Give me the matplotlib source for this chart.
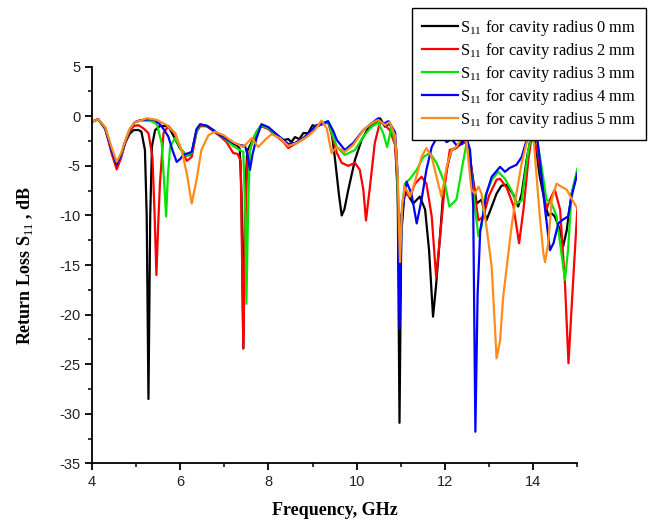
import matplotlib
matplotlib.use("Agg")
import matplotlib.pyplot as plt

plt.rcParams['mathtext.fontset'] = 'custom'
plt.rcParams['mathtext.rm'] = 'Liberation Serif'
plt.rcParams['mathtext.bf'] = 'Liberation Serif:bold'
plt.rcParams['axes.unicode_minus'] = False

# S11 curves: frequency (GHz) and return loss (dB)
f0 = [4.0, 4.14, 4.3, 4.45, 4.56, 4.66, 4.75, 4.85, 4.94, 5.05, 5.12, 5.2, 5.24, 5.28, 5.32, 5.36,
      5.43, 5.54, 5.73, 5.84, 5.99, 6.15, 6.26, 6.37, 6.45, 6.6, 6.75, 6.9, 7.05, 7.2, 7.28, 7.35,
      7.39, 7.43, 7.47, 7.52, 7.62, 7.73, 7.84, 8.0, 8.18, 8.34, 8.45, 8.52, 8.6, 8.7, 8.79, 8.9,
      9.0, 9.09, 9.24, 9.35, 9.43, 9.51, 9.6, 9.66, 9.72, 9.81, 9.96, 10.11, 10.26, 10.41, 10.53,
      10.64, 10.75, 10.87, 10.93, 10.97, 11.01, 11.09, 11.2, 11.28, 11.43, 11.55, 11.64, 11.73,
      11.8, 11.89, 11.96, 12.04, 12.15, 12.26, 12.38, 12.49, 12.57, 12.64, 12.72, 12.83, 12.94,
      13.06, 13.17, 13.28, 13.4, 13.55, 13.66, 13.74, 13.85, 13.96, 14.04, 14.15, 14.27, 14.34,
      14.42, 14.49, 14.61, 14.68, 14.76, 14.87, 15.0]
s0 = [-0.55, -0.3, -1.2, -3.5, -5.0, -4.0, -2.7, -1.8, -1.4, -1.38, -1.55, -3.4, -10.0, -28.5,
      -10.0, -3.0, -1.4, -0.98, -1.0, -1.9, -3.2, -4.0, -3.8, -1.4, -0.9, -1.0, -1.4, -1.9, -2.3,
      -2.8, -2.9, -3.3, -8.0, -23.4, -8.0, -3.5, -2.6, -1.6, -0.9, -1.2, -1.9, -2.4, -2.3, -2.6,
      -2.1, -2.3, -1.7, -1.7, -0.9, -1.05, -0.7, -0.55, -1.5, -4.4, -8.0, -10.0, -9.4, -7.4, -4.4,
      -2.4, -1.2, -0.8, -0.2, -1.05, -0.7, -2.4, -8.0, -30.9, -12.0, -7.2, -8.2, -8.8, -8.1, -9.4,
      -13.5, -20.2, -17.0, -12.0, -7.8, -5.3, -3.4, -3.2, -2.6, -2.4, -4.4, -6.4, -8.8, -8.4,
      -10.5, -9.1, -7.8, -7.0, -6.9, -7.9, -9.1, -7.8, -4.4, -1.8, -2.4, -6.1, -8.8, -10.0, -9.8,
      -10.1, -11.5, -13.1, -11.5, -7.8, -5.7]

f2 = [4.0, 4.14, 4.3, 4.45, 4.56, 4.66, 4.75, 4.85, 4.94, 5.05, 5.16, 5.28, 5.37, 5.42, 5.46, 5.5,
      5.54, 5.62, 5.73, 5.88, 5.99, 6.15, 6.26, 6.37, 6.45, 6.6, 6.75, 6.9, 7.05, 7.2, 7.3, 7.37,
      7.43, 7.47, 7.52, 7.62, 7.73, 7.84, 8.0, 8.18, 8.34, 8.45, 8.6, 8.79, 8.94, 9.09, 9.24,
      9.35, 9.43, 9.55, 9.66, 9.81, 9.96, 10.07, 10.15, 10.21, 10.3, 10.41, 10.53, 10.64, 10.75,
      10.87, 10.93, 10.97, 11.01, 11.09, 11.21, 11.32, 11.47, 11.58, 11.7, 11.8, 11.89, 12.0,
      12.11, 12.23, 12.38, 12.49, 12.57, 12.66, 12.76, 12.87, 13.0, 13.17, 13.25, 13.4, 13.55,
      13.68, 13.78, 13.89, 13.96, 14.08, 14.19, 14.3, 14.38, 14.49, 14.61, 14.72, 14.8, 14.89, 15.0]
s2 = [-0.55, -0.3, -1.3, -3.8, -5.35, -4.2, -2.7, -1.6, -1.0, -0.9, -1.2, -1.7, -4.1, -10.0,
      -16.0, -11.0, -6.8, -1.7, -1.0, -1.7, -3.1, -4.5, -4.1, -1.6, -1.0, -1.0, -1.5, -2.0, -2.6,
      -3.7, -3.8, -4.5, -23.4, -12.0, -4.5, -2.8, -1.7, -1.0, -1.3, -2.0, -2.6, -3.2, -2.8, -2.3,
      -1.8, -1.0, -0.8, -0.6, -1.8, -3.7, -4.7, -5.0, -4.7, -5.4, -7.4, -10.5, -7.1, -2.7, -0.54,
      -0.9, -1.4, -2.9, -7.0, -17.0, -10.0, -7.8, -8.1, -6.8, -6.1, -6.8, -10.1, -16.2, -12.1,
      -6.8, -3.4, -3.2, -2.8, -2.6, -4.0, -7.5, -10.5, -10.1, -8.0, -6.4, -6.3, -7.2, -9.0, -12.8,
      -9.4, -4.4, -2.2, -3.1, -6.1, -9.4, -8.4, -7.4, -9.4, -16.8, -24.9, -17.8, -9.4]

f3 = [4.0, 4.14, 4.3, 4.45, 4.56, 4.66, 4.75, 4.85, 4.97, 5.1, 5.24, 5.35, 5.47, 5.58, 5.64, 5.68,
      5.72, 5.77, 5.88, 6.03, 6.15, 6.26, 6.37, 6.45, 6.6, 6.75, 6.9, 7.05, 7.2, 7.35, 7.43, 7.47,
      7.5, 7.54, 7.58, 7.66, 7.75, 7.84, 8.0, 8.18, 8.34, 8.45, 8.6, 8.79, 8.94, 9.09, 9.24, 9.35,
      9.43, 9.55, 9.73, 9.96, 10.15, 10.34, 10.49, 10.6, 10.69, 10.79, 10.9, 10.98, 11.03, 11.09,
      11.21, 11.36, 11.51, 11.66, 11.81, 12.0, 12.1, 12.26, 12.42, 12.49, 12.57, 12.66, 12.76,
      12.83, 12.91, 13.06, 13.21, 13.36, 13.51, 13.62, 13.74, 13.89, 13.98, 14.08, 14.19, 14.3,
      14.42, 14.53, 14.64, 14.72, 14.79, 14.87, 15.0]
s3 = [-0.55, -0.3, -1.2, -3.4, -4.9, -3.9, -2.6, -1.4, -0.6, -0.45, -0.44, -0.5, -0.8, -2.7, -7.0,
      -10.1, -6.0, -3.1, -2.2, -3.4, -4.0, -3.7, -1.5, -0.85, -0.95, -1.4, -1.9, -2.4, -3.0, -3.4,
      -3.6, -9.0, -18.9, -9.0, -3.4, -2.2, -1.4, -0.9, -1.2, -1.9, -2.5, -2.9, -2.7, -2.2, -1.7,
      -0.9, -0.7, -0.5, -1.6, -3.1, -3.9, -3.4, -2.05, -1.05, -0.64, -1.7, -3.1, -1.05, -3.4,
      -15.5, -9.0, -6.8, -6.3, -5.4, -4.1, -3.7, -4.7, -6.8, -9.1, -8.4, -4.4, -2.7, -4.5, -8.5,
      -12.1, -11.1, -8.1, -6.4, -5.6, -6.3, -7.5, -8.8, -8.5, -3.4, -1.6, -2.2, -5.1, -8.4, -8.8,
      -10.1, -13.8, -16.5, -13.5, -7.8, -5.3]

f4 = [4.0, 4.14, 4.3, 4.45, 4.56, 4.66, 4.75, 4.85, 4.97, 5.09, 5.31, 5.42, 5.54, 5.64, 5.73, 5.83,
      5.92, 6.0, 6.07, 6.26, 6.37, 6.45, 6.6, 6.75, 6.9, 7.05, 7.2, 7.35, 7.47, 7.53, 7.58, 7.64,
      7.73, 7.84, 8.0, 8.18, 8.34, 8.45, 8.6, 8.79, 8.94, 9.09, 9.24, 9.35, 9.47, 9.55, 9.73,
      9.92, 10.15, 10.34, 10.49, 10.6, 10.72, 10.87, 10.93, 10.97, 11.02, 11.13, 11.24, 11.36,
      11.47, 11.58, 11.7, 11.81, 11.92, 12.04, 12.15, 12.26, 12.38, 12.49, 12.57, 12.64, 12.69,
      12.74, 12.8, 12.87, 12.94, 13.06, 13.25, 13.36, 13.47, 13.62, 13.74, 13.85, 13.96, 14.06,
      14.15, 14.27, 14.38, 14.46, 14.57, 14.68, 14.79, 14.87, 15.0]
s4 = [-0.55, -0.3, -1.2, -3.5, -4.9, -3.9, -2.6, -1.4, -0.6, -0.4, -0.3, -0.4, -0.8, -1.4, -2.05,
      -3.5, -4.6, -4.3, -3.9, -3.6, -1.3, -0.8, -0.95, -1.4, -1.9, -2.3, -2.7, -2.9, -3.0, -4.0,
      -5.4, -3.8, -2.2, -0.8, -1.1, -1.8, -2.4, -2.8, -2.7, -2.2, -1.6, -0.9, -0.7, -0.5, -1.5,
      -2.4, -3.4, -2.7, -1.4, -0.7, -0.2, -0.78, -0.5, -1.6, -6.0, -21.4, -10.0, -6.6, -7.8,
      -10.8, -8.4, -5.4, -3.1, -2.2, -2.05, -2.6, -2.3, -2.9, -2.8, -2.2, -3.4, -9.0, -31.8,
      -18.0, -11.5, -9.8, -7.8, -6.1, -5.1, -5.6, -5.2, -4.9, -4.1, -2.4, -1.2, -1.0, -4.4, -9.4,
      -13.5, -12.8, -10.8, -10.4, -10.1, -8.1, -5.75]

f5 = [4.0, 4.14, 4.3, 4.45, 4.56, 4.66, 4.75, 4.85, 4.97, 5.09, 5.24, 5.47, 5.69, 5.88, 6.03, 6.15,
      6.26, 6.37, 6.48, 6.64, 6.79, 6.98, 7.2, 7.43, 7.62, 7.77, 7.92, 8.07, 8.26, 8.45, 8.64,
      8.86, 9.05, 9.2, 9.32, 9.43, 9.55, 9.73, 9.92, 10.15, 10.34, 10.49, 10.64, 10.75, 10.87,
      10.93, 10.98, 11.03, 11.09, 11.21, 11.32, 11.47, 11.58, 11.7, 11.81, 11.92, 12.04, 12.15,
      12.26, 12.38, 12.49, 12.6, 12.68, 12.76, 12.83, 12.94, 13.06, 13.17, 13.25, 13.32, 13.4,
      13.51, 13.62, 13.74, 13.85, 13.94, 14.0, 14.09, 14.15, 14.23, 14.27, 14.34, 14.42, 14.53,
      14.64, 14.76, 14.87, 15.0]
s5 = [-0.55, -0.3, -1.1, -3.2, -4.6, -3.7, -2.5, -1.3, -0.6, -0.45, -0.2, -0.37, -0.88, -1.7,
      -3.4, -5.8, -8.8, -6.4, -3.4, -1.9, -1.55, -1.9, -2.6, -3.1, -2.2, -3.1, -2.4, -1.8, -2.2,
      -3.0, -2.7, -2.1, -1.4, -0.44, -1.2, -3.7, -3.1, -3.6, -2.9, -1.4, -0.7, -0.37, -0.88, -0.6,
      -2.0, -6.0, -14.7, -9.0, -7.1, -8.1, -6.6, -4.1, -3.2, -4.1, -6.1, -8.1, -5.1, -3.4, -3.1,
      -2.2, -2.6, -7.4, -7.8, -7.1, -7.8, -11.1, -15.2, -24.4, -22.6, -18.2, -15.2, -11.1, -7.8,
      -4.7, -2.7, -1.1, -1.7, -6.8, -10.1, -13.8, -14.7, -12.8, -8.4, -6.8, -7.1, -7.4, -8.3, -9.3]

labels = ['0', '2', '3', '4', '5']
colors = ['black', '#ff0000', '#00e600', '#0000ff', '#ff8c1a']

fig = plt.figure(figsize=(6.51, 5.22), dpi=100)
ax = fig.add_axes([0.1413, 0.1121, 0.7455, 0.7602])

for f, s, lab, c in zip([f0, f2, f3, f4, f5], [s0, s2, s3, s4, s5], labels, colors):
    ax.plot(f, s, color=c, lw=1.6, label=r'S$_{11}$ for cavity radius ' + lab + ' mm')

ax.set_xlim(4, 15)
ax.set_ylim(-35, 5)
ax.set_xticks([4, 6, 8, 10, 12, 14])
ax.set_xticks([5, 7, 9, 11, 13, 15], minor=True)
ax.set_yticks(range(-35, 6, 5))
ax.set_yticks([-32.5, -27.5, -22.5, -17.5, -12.5, -7.5, -2.5, 2.5], minor=True)
ax.spines['top'].set_visible(False)
ax.spines['right'].set_visible(False)
ax.spines['left'].set_linewidth(1.3)
ax.spines['bottom'].set_linewidth(1.3)
ax.tick_params(which='major', direction='out', length=5, width=1.3, labelsize=10.5)
ax.tick_params(which='minor', direction='out', length=3, width=1.1)
for t in ax.get_xticklabels() + ax.get_yticklabels():
    t.set_fontfamily('Liberation Sans')
    t.set_color('#222222')

ax.set_xlabel('Frequency, GHz', family='Liberation Serif', fontweight='bold', fontsize=13, labelpad=9)
ax.set_ylabel(r'Return Loss S$_{11}$ , dB', family='Liberation Serif', fontweight='bold',
              fontsize=13, labelpad=17)

leg = ax.legend(loc='upper left', bbox_to_anchor=(0.633, 0.985), bbox_transform=fig.transFigure,
                prop={'family': 'Liberation Serif', 'size': 11.8}, frameon=True, fancybox=False,
                edgecolor='black', framealpha=1, handlelength=2.2, handletextpad=0.15,
                labelspacing=0.19, borderpad=0.6, borderaxespad=0)
leg.get_frame().set_linewidth(1.0)

fig.savefig('out.png', dpi=100)
